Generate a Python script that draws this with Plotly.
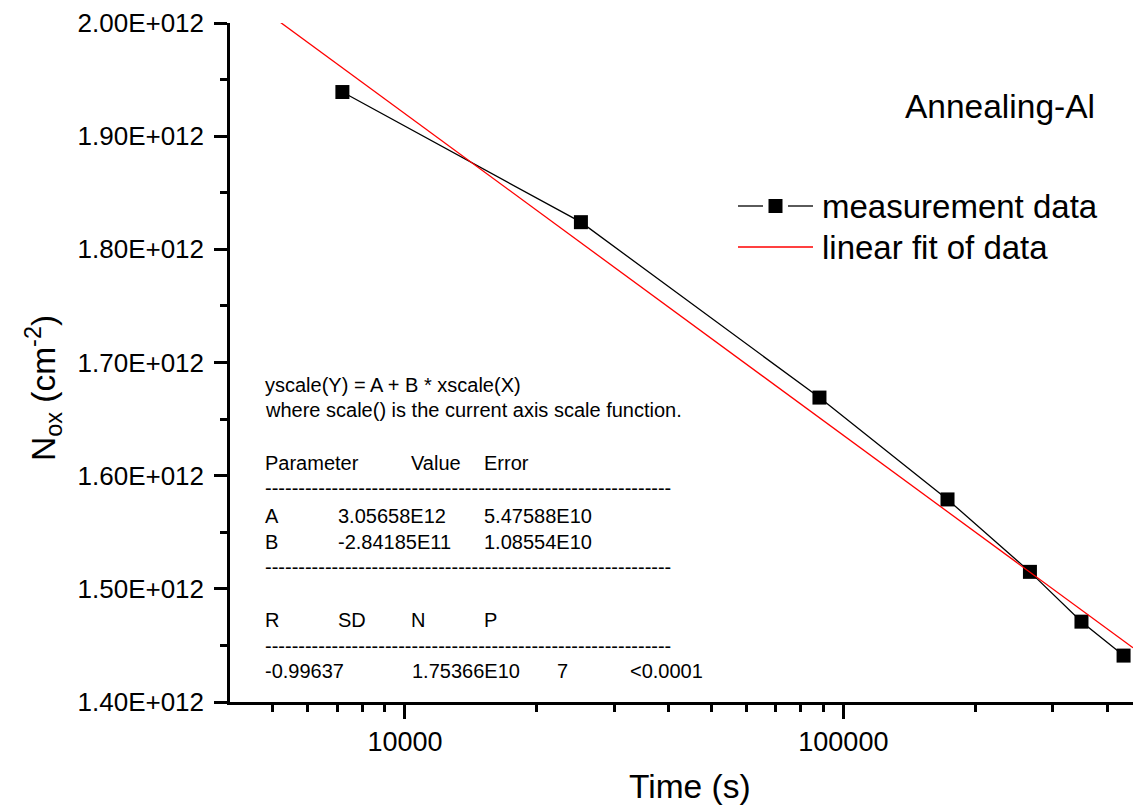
import numpy as np
import plotly.graph_objects as go

# ---- data ----
time_s = [7200, 25200, 88200, 172800, 266400, 349200, 435600]
nox = [1.939e12, 1.824e12, 1.669e12, 1.579e12, 1.515e12, 1.471e12, 1.441e12]

fit_A = 3.05658e12
fit_B = -2.84185e11

y_tickvals = [1.40e12, 1.50e12, 1.60e12, 1.70e12, 1.80e12, 1.90e12, 2.00e12]
y_ticktext = ["1.40E+012", "1.50E+012", "1.60E+012", "1.70E+012", "1.80E+012", "1.90E+012", "2.00E+012"]
y_minor = [1.45e12, 1.55e12, 1.65e12, 1.75e12, 1.85e12, 1.95e12]
x_tickvals = [10000, 100000]
x_ticktext = ["10000", "100000"]
x_minor = [5000, 6000, 7000, 8000, 9000, 20000, 30000, 40000, 50000, 60000, 70000,
           80000, 90000, 200000, 300000, 400000]

x_range_log = [3.601, 5.6606]

# ---- layout geometry ----
W, H = 1133, 807
L, R, T, B = 230, 0, 23, 105
PW, PH = W - L - R, H - T - B
FONT = "Liberation Sans, Arial, sans-serif"


def px(x):
    return (x - L) / PW


def py(y):
    return (H - B - y) / PH


fit_x = np.array([10 ** x_range_log[0], 10 ** x_range_log[1]])
fit_y = fit_A + fit_B * np.log10(fit_x)

fig = go.Figure()
fig.add_trace(go.Scatter(
    x=time_s, y=nox, mode="lines+markers", name="measurement data",
    line=dict(color="black", width=1.3),
    marker=dict(symbol="square", size=14, color="black"),
    cliponaxis=False, showlegend=False,
))
fig.add_trace(go.Scatter(
    x=fit_x, y=fit_y, mode="lines", name="linear fit of data",
    line=dict(color="red", width=1.3), showlegend=False,
))

fig.update_layout(
    width=W, height=H,
    margin=dict(l=L, r=R, t=T, b=B, autoexpand=False),
    paper_bgcolor="white", plot_bgcolor="white",
    font=dict(family=FONT, color="black", size=27),
    showlegend=False,
)

fig.update_xaxes(
    type="log", range=x_range_log,
    showline=True, linecolor="black", linewidth=2.5,
    showgrid=False, zeroline=False,
    ticks="outside", ticklen=14, tickwidth=2.5, tickcolor="black",
    tickmode="array", tickvals=x_tickvals, ticktext=x_ticktext,
    tickfont=dict(size=27, family=FONT),
    minor=dict(tickmode="array", tickvals=x_minor, ticks="outside", ticklen=7,
               tickwidth=2.5, tickcolor="black", showgrid=False),
)
fig.update_yaxes(
    range=[1.40e12, 2.00e12],
    showline=True, linecolor="black", linewidth=2.5,
    showgrid=False, zeroline=False,
    ticks="outside", ticklen=13, tickwidth=2.5, tickcolor="black",
    tickmode="array", tickvals=y_tickvals, ticktext=y_ticktext,
    tickfont=dict(size=26, family=FONT),
    ticklabelstandoff=5,
    minor=dict(tickmode="array", tickvals=y_minor, ticks="outside", ticklen=7,
               tickwidth=2.5, tickcolor="black", showgrid=False),
)

ann = []
# axis titles
ann.append(dict(text="Time (s)", x=px(690), y=py(786), xref="paper", yref="paper",
                showarrow=False, font=dict(size=33.5, family=FONT), xanchor="center", yanchor="middle"))
ann.append(dict(text="N<sub>ox</sub> (cm<sup>-2</sup>)", x=px(43), y=py(388), xref="paper", yref="paper",
                showarrow=False, textangle=-90, font=dict(size=33.5, family=FONT),
                xanchor="center", yanchor="middle"))
ann.append(dict(text="Annealing-Al", x=px(903), y=py(106), xref="paper", yref="paper",
                showarrow=False, font=dict(size=33.5, family=FONT), xanchor="left", yanchor="middle"))

# legend (drawn as a key: line - square - line, and a red line)
LEG_FS = 33
leg_items = [("measurement data", 206, "black", True), ("linear fit of data", 247, "red", False)]
shapes = []
for label, yc, col, has_marker in leg_items:
    ann.append(dict(text=label, x=px(821), y=py(yc), xref="paper", yref="paper",
                    showarrow=False, font=dict(size=LEG_FS, family=FONT),
                    xanchor="left", yanchor="middle", borderpad=0))
    if has_marker:
        shapes.append(dict(type="line", xref="paper", yref="paper", x0=px(738), x1=px(763),
                           y0=py(yc), y1=py(yc), line=dict(color=col, width=1.3)))
        shapes.append(dict(type="line", xref="paper", yref="paper", x0=px(788), x1=px(813),
                           y0=py(yc), y1=py(yc), line=dict(color=col, width=1.3)))
        shapes.append(dict(type="rect", xref="paper", yref="paper", x0=px(768.5), x1=px(782.5),
                           y0=py(yc + 7), y1=py(yc - 7), fillcolor="black", line=dict(width=0)))
    else:
        shapes.append(dict(type="line", xref="paper", yref="paper", x0=px(738), x1=px(813),
                           y0=py(yc), y1=py(yc), line=dict(color=col, width=1.3)))

# fit report text
FS = 20
dash = "-" * 61
rows = [
    (264, 392, "yscale(Y) = A + B * xscale(X)"),
    (264, 417, "where scale() is the current axis scale function."),
    (264, 470, "Parameter"), (410, 470, "Value"), (483, 470, "Error"),
    (264, 490, dash),
    (264, 523, "A"), (337, 523, "3.05658E12"), (483, 523, "5.47588E10"),
    (264, 549, "B"), (337, 549, "-2.84185E11"), (483, 549, "1.08554E10"),
    (264, 569, dash),
    (264, 627, "R"), (337, 627, "SD"), (410, 627, "N"), (483, 627, "P"),
    (264, 648, dash),
    (264, 678, "-0.99637"), (411, 678, "1.75366E10"), (556, 678, "7"), (629, 678, "&lt;0.0001"),
]
for x0, yb, t in rows:
    yc = yb - 0.36 * FS if not t.startswith("---") else yb - 0.1 * FS
    ann.append(dict(text=t, x=px(x0), y=py(yc), xref="paper", yref="paper",
                    showarrow=False, font=dict(size=FS, family=FONT),
                    xanchor="left", yanchor="middle", borderpad=0))

fig.update_layout(annotations=ann, shapes=shapes)

fig.write_html("out.html", config={"displayModeBar": False},
               post_script="document.body.style.margin='0';document.body.style.overflow='hidden';")
